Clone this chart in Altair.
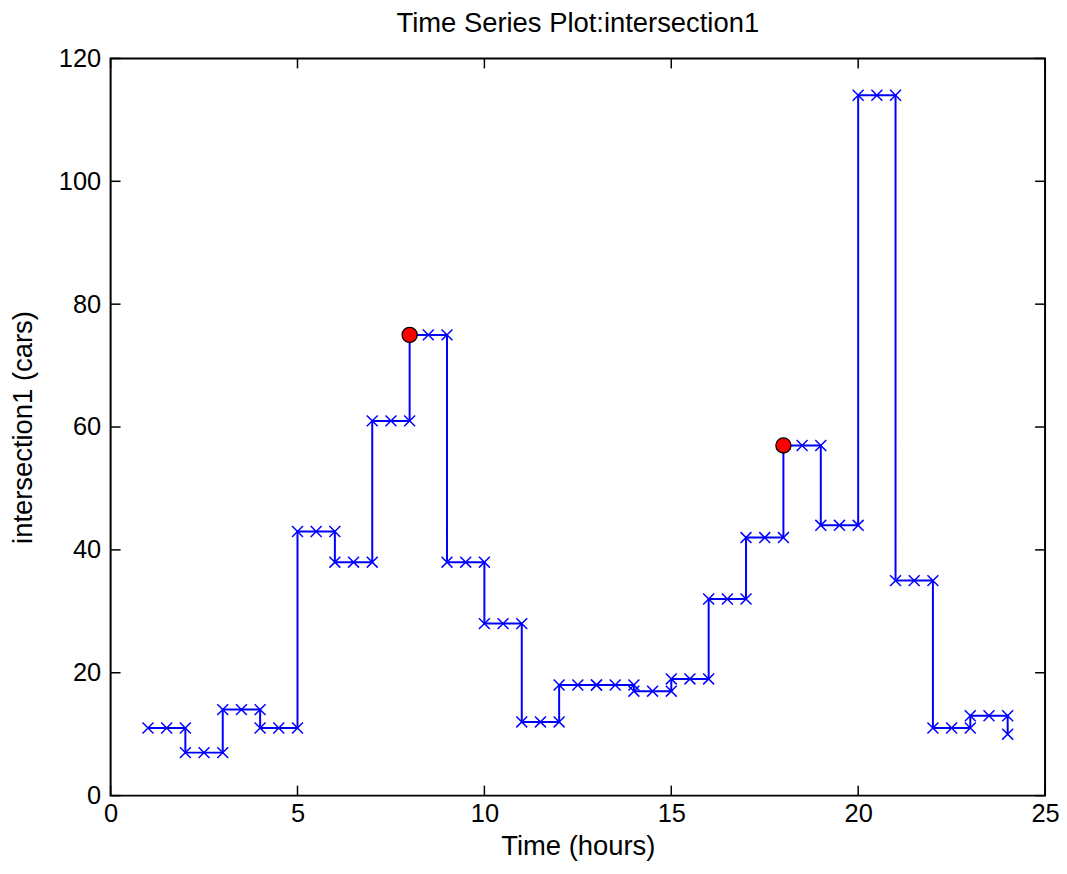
import altair as alt
import pandas as pd

# ---- data ----
hours = list(range(1, 25))
cars = [11, 7, 14, 11, 43, 38, 61, 75, 38, 28, 12, 18,
        18, 17, 19, 32, 42, 57, 44, 114, 35, 11, 13, 10]
peak_hours = [8, 18]
peak_cars = [75, 57]
x_ticks = [0, 5, 10, 15, 20, 25]
y_ticks = [0, 20, 40, 60, 80, 100, 120]
marker_offsets = [0, 0.5, 1]

W, H = 938, 740
FONT = "Liberation Sans"
FS = 25.5      # tick labels
FS_T = 27.5    # titles (MATLAB uses 1.1x)
TICK = 10

line_df = pd.DataFrame({"t": hours, "v": cars})
mk_rows = []
for h, v in zip(hours[:-1], cars[:-1]):
    for o in marker_offsets:
        mk_rows.append({"t": h + o, "v": v})
mk_rows.append({"t": hours[-1], "v": cars[-1]})
mk_df = pd.DataFrame(mk_rows)
peak_df = pd.DataFrame({"t": peak_hours, "v": peak_cars})
xt_df = pd.DataFrame({"t": x_ticks})
yt_df = pd.DataFrame({"v": y_ticks})

sx = alt.Scale(domain=[0, 25], nice=False, zero=False)
sy = alt.Scale(domain=[0, 120], nice=False)
ax_x = alt.Axis(values=x_ticks, title="Time (hours)", ticks=False, grid=False,
                domain=False, labelPadding=6, titlePadding=6, labelFlush=False)
ax_y = alt.Axis(values=y_ticks, title="intersection1 (cars)", ticks=False, grid=False,
                domain=False, labelPadding=10, titlePadding=21, labelFlush=False)
X = alt.X("t:Q", scale=sx, axis=ax_x)
Y = alt.Y("v:Q", scale=sy, axis=ax_y)

line = alt.Chart(line_df).mark_line(
    interpolate="step-after", color="#0000FF", strokeWidth=2
).encode(x=X, y=Y)

markers = alt.Chart(mk_df).mark_point(
    shape="M-1,-1L1,1M1,-1L-1,1", size=120, filled=False,
    color="#0000FF", strokeWidth=1.5, opacity=1
).encode(x=X, y=Y)

peaks = alt.Chart(peak_df).mark_point(
    shape="circle", size=230, filled=True, fill="#FF0000",
    stroke="#000000", strokeWidth=1.3, opacity=1
).encode(x=X, y=Y)

xt_bottom = alt.Chart(xt_df).mark_rule(color="#000000", strokeWidth=1.5).encode(
    x=X, y=alt.value(H), y2=alt.value(H - TICK))
xt_top = alt.Chart(xt_df).mark_rule(color="#000000", strokeWidth=1.5).encode(
    x=X, y=alt.value(0), y2=alt.value(TICK))
yt_left = alt.Chart(yt_df).mark_rule(color="#000000", strokeWidth=1.5).encode(
    y=Y, x=alt.value(0), x2=alt.value(TICK))
yt_right = alt.Chart(yt_df).mark_rule(color="#000000", strokeWidth=1.5).encode(
    y=Y, x=alt.value(W), x2=alt.value(W - TICK))

chart = alt.layer(
    xt_bottom, xt_top, yt_left, yt_right, line, markers, peaks
).properties(
    width=W, height=H,
    title=alt.TitleParams("Time Series Plot:intersection1", font=FONT, fontSize=FS_T,
                          fontWeight="normal", color="#000000", offset=9, anchor="middle"),
    autosize=alt.AutoSizeParams(type="none"),
    padding={"left": 103, "top": 49, "right": 14, "bottom": 64},
    background="#FFFFFF",
).configure_view(
    stroke="#000000", strokeWidth=2
).configure_axis(
    labelFont=FONT, labelFontSize=FS, labelColor="#000000",
    titleFont=FONT, titleFontSize=FS_T, titleColor="#000000", titleFontWeight="normal",
)

chart.save("out.html", embed_options={"renderer": "svg", "actions": False})
